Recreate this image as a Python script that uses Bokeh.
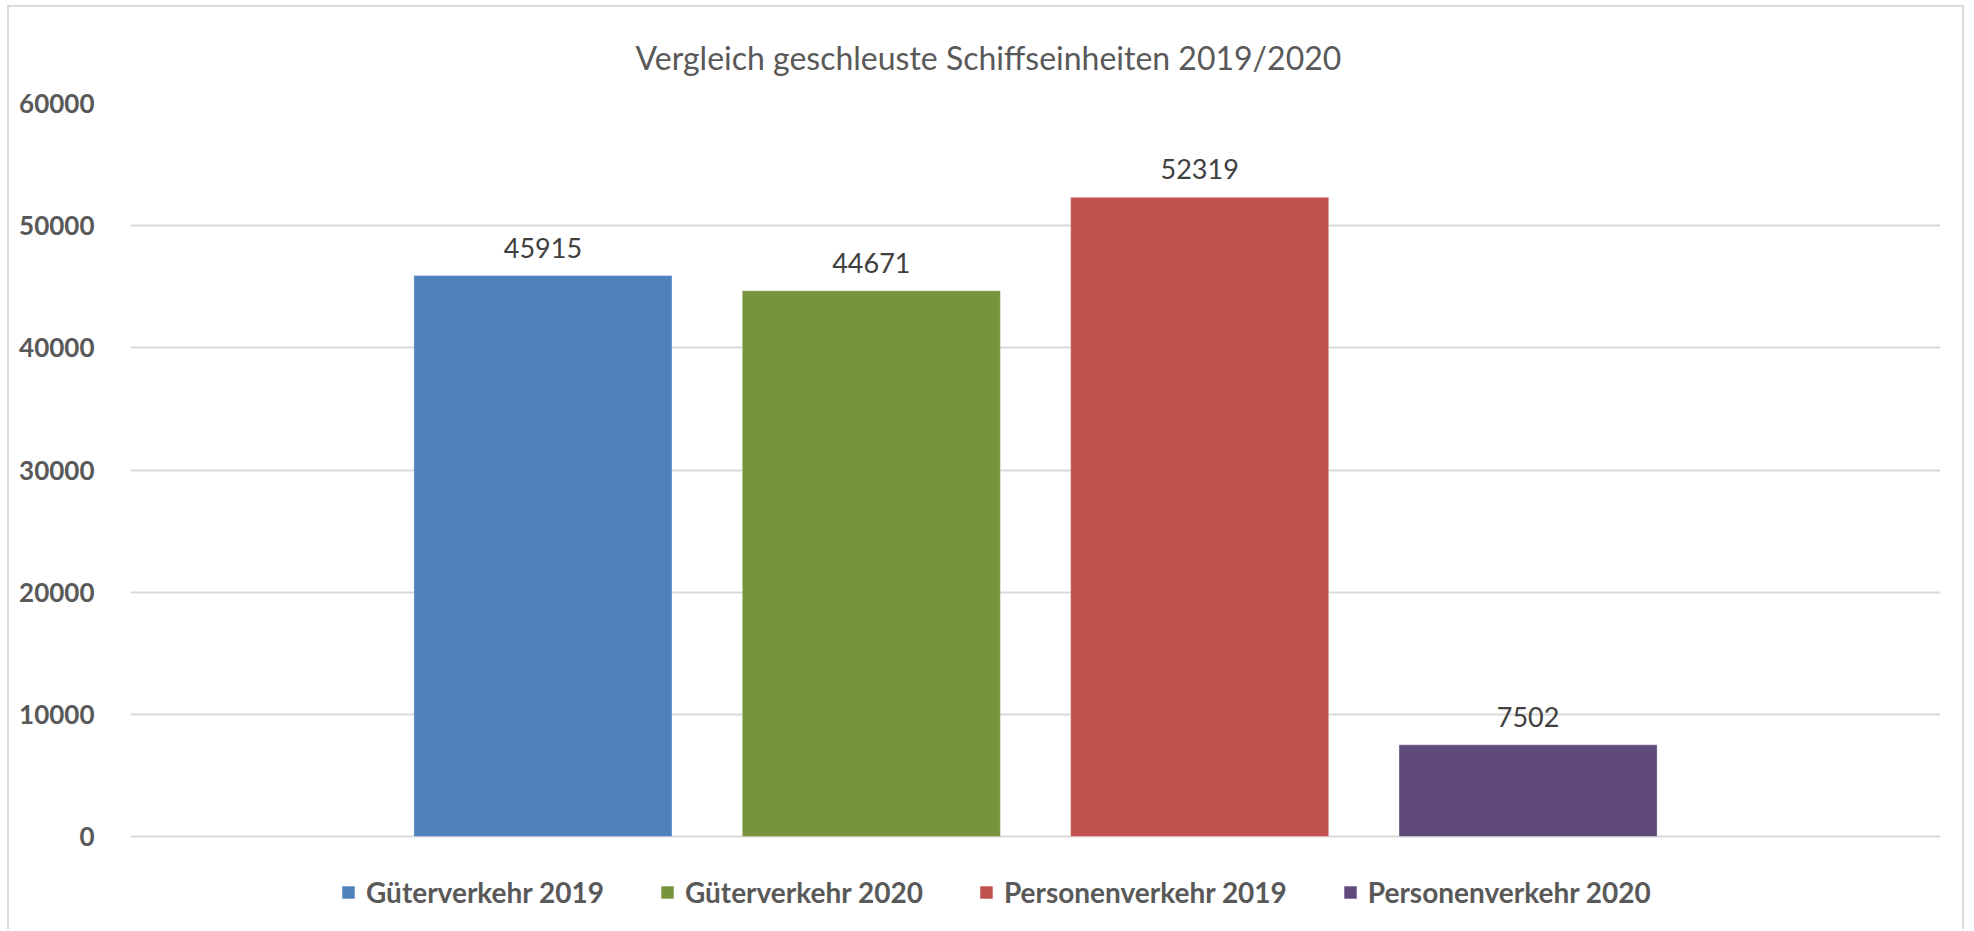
from bokeh.plotting import figure
from bokeh.models import FactorRange, Range1d, ColumnDataSource, LabelSet, Legend, LegendItem, FixedTicker
from bokeh.core.properties import value
from bokeh.embed import file_html
from bokeh.resources import INLINE

series = ["Güterverkehr 2019", "Güterverkehr 2020", "Personenverkehr 2019", "Personenverkehr 2020"]
values = [45915, 44671, 52319, 7502]
colors = ["#4f81bd", "#77933c", "#c0504d", "#604a7b"]
y_ticks = [0, 10000, 20000, 30000, 40000, 50000, 60000]
title_text = "Vergleich geschleuste Schiffseinheiten 2019/2020"

FONT = "Lato"
Y_MAX = 60000
# frame extends below the zero line to leave room for the legend inside the frame
PLOT_PX = 733.0      # pixels between 0 and 60000
BELOW_PX = 95.0      # pixels between 0 line and frame bottom
y_start = -Y_MAX * BELOW_PX / PLOT_PX

src = ColumnDataSource(dict(x=series, top=values, color=colors, lbl=[str(v) for v in values]))

p = figure(
    width=1957, height=924,
    x_range=FactorRange(factors=series, range_padding=0.378, range_padding_units="percent"),
    y_range=Range1d(y_start, Y_MAX),
    output_backend="svg", toolbar_location=None,
    min_border_left=121, min_border_right=26, min_border_top=96, min_border_bottom=0,
)
p.styles = {"margin-left": "7px", "margin-top": "5px",
            "border-left": "2px solid #d9d9d9", "border-top": "2px solid #d9d9d9",
            "border-right": "2px solid #d9d9d9"}

r = p.vbar(x="x", top="top", bottom=0, width=0.786, color="color", source=src,
           line_color="white", line_alpha=0.35, line_width=1)

labels = LabelSet(x="x", y="top", text="lbl", source=src, y_offset=18,
                  text_align="center", text_baseline="alphabetic",
                  text_font=value(FONT), text_font_size=value("27px"), text_color=value("#404040"))
p.add_layout(labels)

p.title.text = title_text
p.title.align = "left"
p.title.offset = 505
p.title.text_font = FONT
p.title.text_font_style = "normal"
p.title.text_font_size = "32px"
p.title.text_color = "#595959"
p.title.standoff = 53

p.xaxis.visible = False
p.xgrid.visible = False
p.yaxis.ticker = FixedTicker(ticks=y_ticks)
p.yaxis.axis_line_color = None
p.yaxis.major_tick_line_color = None
p.yaxis.minor_tick_line_color = None
p.yaxis.major_label_standoff = 30
p.yaxis.major_label_text_font = FONT
p.yaxis.major_label_text_font_style = "bold"
p.yaxis.major_label_text_font_size = "26px"
p.yaxis.major_label_text_color = "#595959"
p.ygrid.grid_line_color = "#d9d9d9"
p.ygrid.grid_line_width = 2
p.outline_line_color = None

items = []
for i, s in enumerate(series):
    items.append(LegendItem(label=s, renderers=[r], index=i))
legend = Legend(items=items, orientation="horizontal", location=(210, 22),
                glyph_width=16, glyph_height=16, label_standoff=10, spacing=55,
                label_height=30,
                label_text_font=FONT, label_text_font_style="bold",
                label_text_font_size="28px", label_text_color="#595959",
                border_line_color=None, background_fill_alpha=0, padding=0, margin=0)
p.add_layout(legend, "center")

open("out.html", "w").write(file_html(p, INLINE))
